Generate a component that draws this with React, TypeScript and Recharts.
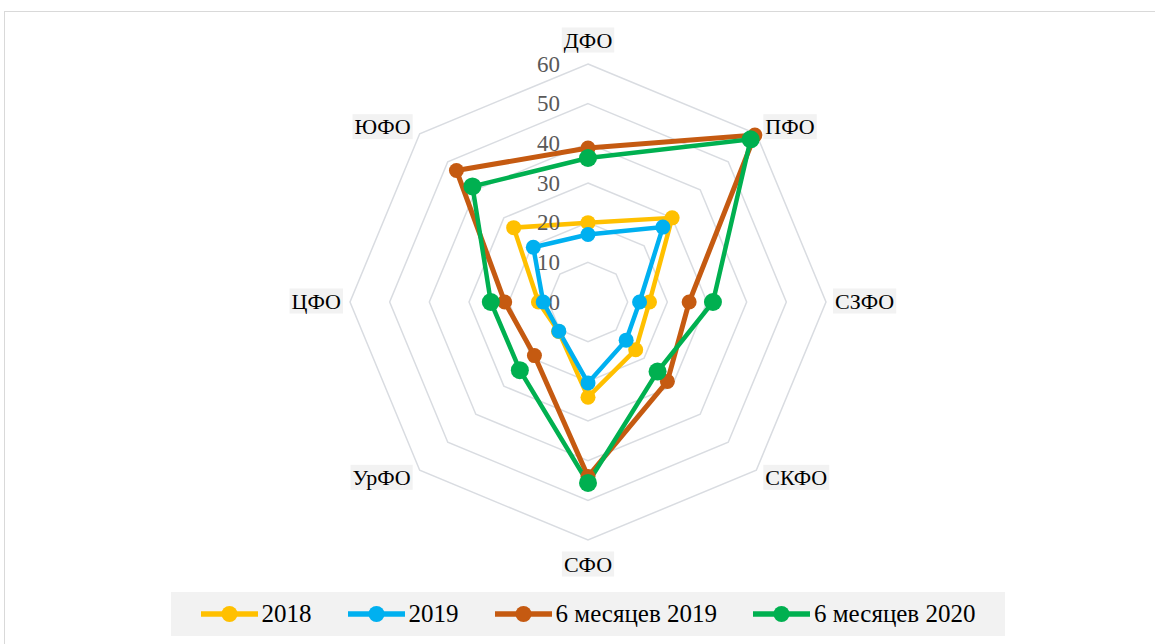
import React, { useLayoutEffect, useRef, useState } from 'react';
import { RadarChart, Radar, PolarGrid, PolarAngleAxis, PolarRadiusAxis, Legend } from 'recharts';

const categories = ['ДФО', 'ПФО', 'СЗФО', 'СКФО', 'СФО', 'УрФО', 'ЦФО', 'ЮФО'];
const values2018 = [20, 30, 15.5, 17, 24, 10.5, 12.5, 26.5];
const values2019 = [17, 26.7, 13, 13.6, 20.4, 10.4, 11.3, 19.5];
const half2019 = [38.8, 59.5, 25.5, 28.3, 44, 19.1, 21, 46.9];
const half2020 = [36.3, 58, 31.5, 24.8, 45.6, 24.3, 24.5, 41.2];
const radiusTicks = [0, 10, 20, 30, 40, 50, 60];

const seriesList = [
    { key: 's2018', name: '2018', color: '#FFC000', r: 7.5, w: 4.5 },
    { key: 's2019', name: '2019', color: '#00B0F0', r: 7.5, w: 4.5 },
    { key: 'h2019', name: '6 месяцев 2019', color: '#C55A11', r: 7.5, w: 5 },
    { key: 'h2020', name: '6 месяцев 2020', color: '#00B050', r: 9, w: 4.5 },
];

const data = categories.map((c, i) => ({
    name: c,
    s2018: values2018[i],
    s2019: values2019[i],
    h2019: half2019[i],
    h2020: half2020[i],
}));

const CX = 588;
const CY = 302;
const R = 238;
const FONT = '"Liberation Serif", "DejaVu Serif", serif';

const CategoryTick = (props: any) => {
    const { payload } = props;
    const ref = useRef<SVGTextElement>(null);
    const [box, setBox] = useState<{ x: number; y: number; w: number; h: number } | null>(null);
    useLayoutEffect(() => {
        if (ref.current) {
            const b = ref.current.getBBox();
            setBox({ x: b.x, y: b.y, w: b.width, h: b.height });
        }
    }, [payload.value]);

    const idx = categories.indexOf(payload.value);
    const ang = ((90 - idx * 45) * Math.PI) / 180;
    const cos = Math.cos(ang);
    const sin = Math.sin(ang);
    const vx = CX + R * cos;
    const vy = CY - R * sin;
    let x = vx;
    let y = vy;
    let anchor: 'start' | 'middle' | 'end' = 'middle';
    if (Math.abs(cos) < 0.01) {
        y = vy - Math.sign(sin) * 24;
    } else {
        x = vx + (cos > 0 ? 9 : -9);
        anchor = cos > 0 ? 'start' : 'end';
        y = Math.abs(sin) < 0.01 ? vy - 1 : vy - Math.sign(sin) * 7;
    }

    return (
        <g>
            {box && <rect x={box.x - 2} y={box.y} width={box.w + 4} height={box.h} fill="#f2f2f2" />}
            <text
                ref={ref}
                x={x}
                y={y}
                textAnchor={anchor}
                dominantBaseline="central"
                fontFamily={FONT}
                fontSize={22}
                fill="#000"
            >
                {payload.value}
            </text>
        </g>
    );
};

const RadiusTick = (props: any) => {
    const { x, y, payload } = props;
    return (
        <text
            x={x - 28}
            y={y}
            textAnchor="end"
            dominantBaseline="central"
            fontFamily={FONT}
            fontSize={23}
            fill="#595959"
        >
            {payload.value}
        </text>
    );
};

const renderLegend = () => (
    <div
        style={{
            width: 834,
            height: 44,
            background: '#f2f2f2',
            display: 'flex',
            alignItems: 'center',
            justifyContent: 'center',
            gap: 36,
            fontFamily: FONT,
            fontSize: 25,
            color: '#000',
        }}
    >
        {seriesList.map((s) => (
            <div key={s.key} style={{ display: 'flex', alignItems: 'center', gap: 4 }}>
                <svg width={57} height={20}>
                    <line x1={0} y1={10} x2={57} y2={10} stroke={s.color} strokeWidth={5.5} />
                    <circle cx={28.5} cy={10} r={8} fill={s.color} />
                </svg>
                <span>{s.name}</span>
            </div>
        ))}
    </div>
);

const App = () => {
    return (
        <div style={{ position: 'absolute', left: 0, top: 0, width: 1155, height: 644, overflow: 'hidden', background: '#fff' }}>
            <div
                style={{
                    position: 'absolute',
                    left: 4,
                    top: 11,
                    width: 1200,
                    height: 700,
                    border: '1px solid #d9d9d9',
                }}
            />
            <div style={{ position: 'absolute', left: 0, top: 0 }}>
                <RadarChart width={1155} height={644} data={data} cx={CX} cy={CY} outerRadius={R} margin={{ top: 0, right: 0, bottom: 0, left: 0 }}>
                    <PolarGrid gridType="polygon" radialLines={false} stroke="#d9dce1" strokeWidth={1.5} />
                    <PolarAngleAxis dataKey="name" tick={<CategoryTick />} axisLine={false} tickLine={false} />
                    <PolarRadiusAxis
                        angle={90}
                        domain={[0, 60]}
                        ticks={radiusTicks as any}
                        tickCount={7}
                        axisLine={false}
                        tickLine={false}
                        tick={<RadiusTick />}
                    />
                    {seriesList.map((s) => (
                        <Radar
                            key={s.key}
                            name={s.name}
                            dataKey={s.key}
                            stroke={s.color}
                            strokeWidth={s.w}
                            fill="none"
                            fillOpacity={0}
                            dot={{ r: s.r, fill: s.color, stroke: s.color, strokeWidth: 0, fillOpacity: 1 }}
                            isAnimationActive={false}
                        />
                    ))}
                    <Legend
                        content={renderLegend}
                        wrapperStyle={{ position: 'absolute', left: 171, top: 592, width: 834, height: 44, bottom: 'auto' }}
                    />
                </RadarChart>
            </div>
        </div>
    );
};

export default App;
